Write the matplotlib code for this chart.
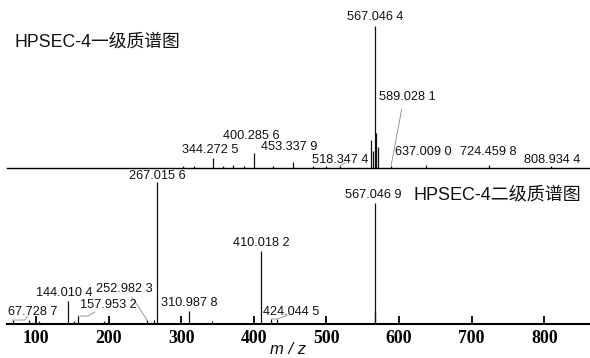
import numpy as np
import matplotlib
matplotlib.use('Agg')
import matplotlib.pyplot as plt

plt.rcParams['font.family'] = ['Liberation Sans', 'Noto Sans CJK SC']

# MS1 spectrum (relative intensity, %)
ms1_mz = [302.9, 317.6, 344.2725, 358.0, 370.9, 386.0, 400.2856, 426.0, 453.3379,
          481.0, 500.0, 518.3474, 562.0, 564.5, 567.0464, 568.9, 570.4, 589.0281,
          637.0090, 724.4598, 808.9344]
ms1_int = [1.0, 1.5, 7.0, 1.0, 2.0, 1.0, 10.2, 1.0, 4.2,
           1.0, 1.0, 1.0, 19.7, 12.0, 100.0, 24.6, 14.8, 1.5,
           2.0, 2.0, 1.0]
ms1_labeled = [567.0464, 589.0281, 344.2725, 400.2856, 453.3379, 518.3474,
               637.0090, 724.4598, 808.9344]

# MS2 spectrum of 567
ms2_mz = [67.7287, 90.8, 104.0, 144.0104, 152.0, 157.9532, 193.0, 252.9823, 262.0,
          267.0156, 310.9878, 342.0, 410.0182, 424.0445, 432.0, 567.0469, 567.4]
ms2_int = [2.8, 2.5, 2.0, 16.2, 2.0, 5.6, 2.0, 2.8, 2.8,
           100.0, 9.2, 2.0, 51.4, 3.5, 3.5, 85.2, 9.0]
ms2_labeled = [267.0156, 567.0469, 410.0182, 144.0104, 252.9823, 157.9532,
               310.9878, 67.7287, 424.0445]

xticks = [100, 200, 300, 400, 500, 600, 700, 800]


def mz_text(v):
    s = '%.4f' % v
    return s[:-1] + ' ' + s[-1]


def intensity(mzs, ints, v):
    return ints[mzs.index(v)]


fig = plt.figure(figsize=(5.9, 3.58), dpi=100)
W, H = 590.0, 358.0
left = 7.3 / W
width = (590 - 7.3) / W

# ---- top panel: MS1 ----
ax1 = fig.add_axes([left, (H - 167.7) / H, width, 167.7 / H])
ax1.set_xlim(60.5, 863)
ax1.set_ylim(0, 118.1)
ax1.vlines(ms1_mz, 0, ms1_int, color='#111111', lw=0.9)
for s in ['top', 'left', 'right']:
    ax1.spines[s].set_visible(False)
ax1.spines['bottom'].set_linewidth(1.0)
ax1.set_xticks([])
ax1.set_yticks([])
ax1.patch.set_alpha(0)

# label anchors (x, y, ha)
ms1_pos = [(567.0464, 106.1, 'center'), (572.5, 49.8, 'left'), (300.7, 12.5, 'left'),
           (357.6, 22.5, 'left'), (409.9, 14.8, 'left'), (479.8, 5.4, 'left'),
           (594.0, 11.3, 'left'), (684.0, 11.3, 'left'), (772.2, 5.6, 'left')]
for v, (x, y, ha) in zip(ms1_labeled, ms1_pos):
    ax1.text(x, y, mz_text(v), fontsize=9.2, ha=ha, va='center', color='#111111')

# leader lines
lead = dict(color='#8a8a8a', lw=0.6)
v = 589.0281
ax1.plot([v, 603.7], [intensity(ms1_mz, ms1_int, v), 41.3], **lead)
v = 518.3474
ax1.plot([v, 525.6], [intensity(ms1_mz, ms1_int, v), 3.3], **lead)

ax1.text(71.1, 88.5, 'HPSEC-4一级质谱图', fontsize=12.8, ha='left', va='center',
         color='#111111')

# ---- bottom panel: MS2 ----
ax2 = fig.add_axes([left, 34 / H, width, (324 - 167.7) / H])
ax2.set_xlim(60.5, 863)
ax2.set_ylim(0, 110.1)
ax2.vlines(ms2_mz, 0, ms2_int, color='#111111', lw=0.9)
for s in ['top', 'left', 'right']:
    ax2.spines[s].set_visible(False)
ax2.spines['bottom'].set_linewidth(1.5)
ax2.set_yticks([])
ax2.set_xticks(xticks)
ax2.tick_params(axis='x', direction='in', length=6, width=1.3, pad=4)
for lab in ax2.get_xticklabels():
    lab.set_fontfamily('Liberation Serif')
    lab.set_fontweight('bold')
    lab.set_fontsize(12.8)
ax2.patch.set_alpha(0)

ms2_pos = [(267.0156, 104.2, 'center'), (525.6, 90.8, 'left'), (410.0182, 57.3, 'center'),
           (100.0, 22.0, 'left'), (182.6, 24.4, 'left'), (160.6, 13.4, 'left'),
           (272.2, 14.6, 'left'), (61.4, 8.7, 'left'), (412.7, 8.7, 'left')]
for v, (x, y, ha) in zip(ms2_labeled, ms2_pos):
    ax2.text(x, y, mz_text(v), fontsize=9.2, ha=ha, va='center', color='#111111')

v = 252.9823
ax2.plot([v, 232.2], [intensity(ms2_mz, ms2_int, v), 19.0], **lead)
v = 157.9532
y0 = intensity(ms2_mz, ms2_int, v)
ax2.plot([v, 171.6, 181.2], [y0, y0, 8.5], **lead)
v = 67.7287
y0 = intensity(ms2_mz, ms2_int, v)
ax2.plot([v, 84.8, 88.5], [y0, y0, 5.5], **lead)
v = 424.0445
y0 = intensity(ms2_mz, ms2_int, v)
ax2.plot([v, 432.0, 446.0], [y0, y0, 6.0], **lead)

ax2.text(620.6, 90.8, 'HPSEC-4二级质谱图', fontsize=13, ha='left', va='center',
         color='#111111')

fig.text(288 / W, 1 - 350 / H, 'm / z', fontsize=12, style='italic',
         ha='center', va='center', color='#111111')

fig.savefig('out.png', dpi=100, facecolor='white')
